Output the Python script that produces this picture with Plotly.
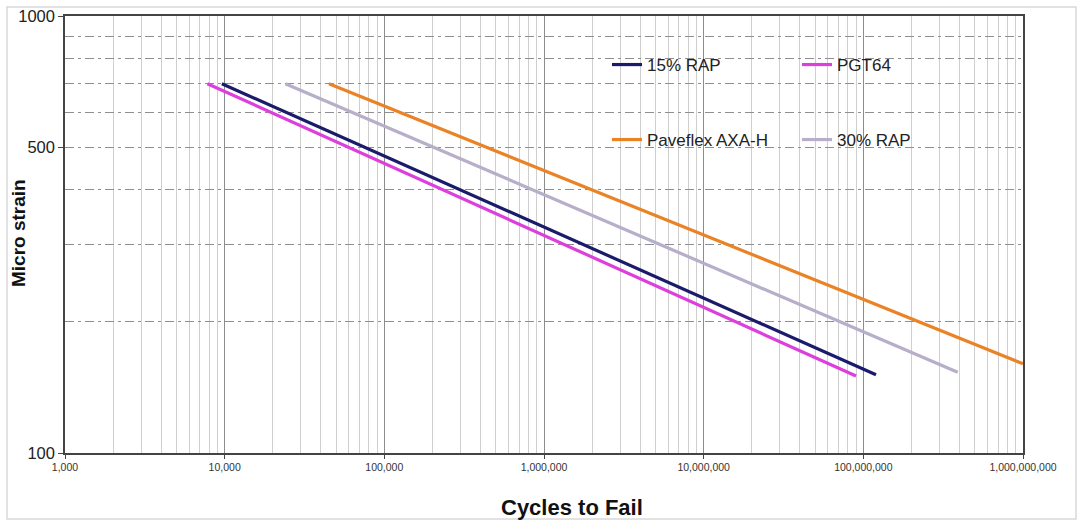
import plotly.graph_objects as go

# Fatigue lines: cycles to failure vs. micro strain (endpoints of each fitted power-law line)
series_names = ["15% RAP", "PGT64", "Paveflex AXA-H", "30% RAP"]
series_colors = ["#1b1b6b", "#dd3fdd", "#ea8326", "#b7aec9"]
cycles = [
    [9600, 1.2e8],
    [7800, 9.0e7],
    [45000, 1.0e9],
    [24000, 3.9e8],
]
strain = [
    [700, 151],
    [700, 150],
    [700, 160],
    [700, 153],
]
legend_groups = ["legend", "legend", "legend2", "legend2"]

x_tickvals = [1e3, 1e4, 1e5, 1e6, 1e7, 1e8, 1e9]
x_ticktext = ["1,000", "10,000", "100,000", "1,000,000", "10,000,000", "100,000,000", "1,000,000,000"]
y_tickvals = [100, 500, 1000]
y_ticktext = ["100", "500", "1000"]
y_dashed_grid = [200, 300, 400, 500, 600, 700, 800, 900]

W, H = 1080, 522
ML, MR, MT, MB = 65, 57, 16, 69
PW, PH = W - ML - MR, H - MT - MB


def px_x(p):
    return (p - ML) / PW


def px_y(p):
    return 1 - (p - MT) / PH


FONT = "Liberation Sans, Arial, sans-serif"

fig = go.Figure()
for name, color, xs, ys, lg in zip(series_names, series_colors, cycles, strain, legend_groups):
    fig.add_trace(go.Scatter(
        x=xs, y=ys, mode="lines", name=name,
        line=dict(color=color, width=3.2),
        legend=lg,
    ))

legend_common = dict(
    orientation="h", xanchor="left", yanchor="middle",
    bgcolor="rgba(0,0,0,0)", borderwidth=0,
    font=dict(family=FONT, size=17, color="#222222"),
    entrywidth=145, entrywidthmode="pixels",
    itemwidth=30, tracegroupgap=0,
)

fig.update_layout(
    width=W, height=H,
    margin=dict(l=ML, r=MR, t=MT, b=MB, autoexpand=False),
    paper_bgcolor="white", plot_bgcolor="white",
    font=dict(family=FONT, color="#222222"),
    showlegend=True,
    legend=dict(x=px_x(607), y=px_y(65), **legend_common),
    legend2=dict(x=px_x(607), y=px_y(140), **legend_common),
    xaxis=dict(
        type="log", range=[3, 9], automargin=False,
        tickvals=x_tickvals, ticktext=x_ticktext,
        tickfont=dict(family=FONT, size=10.5, color="#333333"),
        showgrid=True, gridcolor="#8c8c8c", gridwidth=1,
        minor=dict(dtick="D1", showgrid=True, gridcolor="#cfcfcf", gridwidth=1),
        showline=True, linecolor="#444444", linewidth=1.5, mirror=True,
        ticks="outside", ticklen=4, tickcolor="#444444",
        zeroline=False,
    ),
    yaxis=dict(
        type="log", range=[2, 3], automargin=False,
        tickvals=y_tickvals, ticktext=y_ticktext,
        tickfont=dict(family=FONT, size=16.5, color="#222222"),
        showgrid=False,
        minor=dict(tickvals=y_dashed_grid, showgrid=True, gridcolor="#8f8f8f",
                   gridwidth=1, griddash="9px,4px,3px,4px", ticks=""),
        showline=True, linecolor="#444444", linewidth=1.5, mirror=True,
        ticks="outside", ticklen=5, tickcolor="#444444",
        zeroline=False,
    ),
    annotations=[
        dict(text="<b>Cycles to Fail</b>", xref="paper", yref="paper",
             x=px_x(572), y=px_y(507), xanchor="center", yanchor="middle", showarrow=False,
             font=dict(family=FONT, size=22, color="#111111")),
        dict(text="<b>Micro strain</b>", xref="paper", yref="paper",
             x=px_x(18), y=px_y(233), xanchor="center", yanchor="middle", showarrow=False,
             textangle=-90, font=dict(family=FONT, size=19, color="#111111")),
    ],
)

# light rounded frame around the whole chart
x0, x1 = px_x(7), px_x(1076)
y0, y1 = px_y(7), px_y(519)
fig.add_shape(
    type="rect", xref="paper", yref="paper",
    x0=x0, x1=x1, y0=y1, y1=y0,
    line=dict(color="#d9d9d9", width=1.5), fillcolor="rgba(0,0,0,0)", layer="below",
)

fig.write_html("out.html")
